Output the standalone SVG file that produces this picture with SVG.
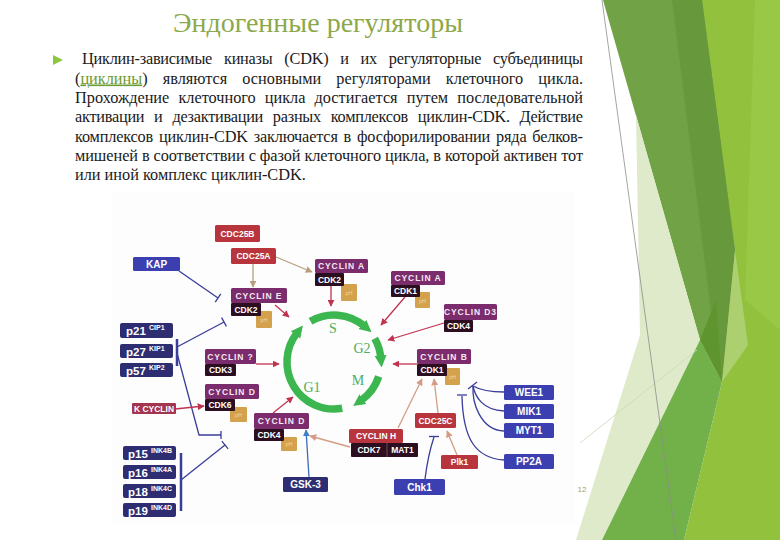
<svg xmlns="http://www.w3.org/2000/svg" width="780" height="540" viewBox="0 0 780 540">
<style>
.body{font-family:"Liberation Serif","Times New Roman",serif;font-size:16.3px;fill:#1a1a1a}
.cyc{fill:#7a2c6c}
.cdk{fill:#2b0e20}
.ph{fill:#d4a24c}
.red{fill:#b8353e}
.blue{fill:#3c3fb0}
.navy{fill:#2e2d72}
.kc{fill:#a4354e}
.bt{font-family:"Liberation Sans",Arial,sans-serif;font-weight:bold;fill:#fff;font-size:8.5px;text-anchor:middle}
.ct{font-family:"Liberation Sans",Arial,sans-serif;font-weight:bold;fill:#f6e8f2;font-size:8.5px;text-anchor:middle;letter-spacing:0.9px}
.bl{font-family:"Liberation Sans",Arial,sans-serif;font-weight:bold;fill:#fff;font-size:10px;text-anchor:middle}
.pt{font-family:"Liberation Sans",Arial,sans-serif;font-weight:bold;fill:#fff;font-size:11.5px}
.sup{font-size:7px}
.pht{font-family:"Liberation Sans",Arial,sans-serif;fill:#f2d7a4;font-size:5.5px;text-anchor:middle}
.phase{font-family:"Liberation Serif","Times New Roman",serif;font-size:14px;fill:#4cae60;text-anchor:middle}
.lr{stroke:#c0334f;stroke-width:1.3;fill:none;marker-end:url(#ar)}
.lt{stroke:#b5a07e;stroke-width:1.3;fill:none;marker-end:url(#at)}
.ls{stroke:#d49c84;stroke-width:1.3;fill:none;marker-end:url(#as)}
.li{stroke:#3a3d9a;stroke-width:1.3;fill:none}
.arc{stroke:#3cb64f;stroke-width:7.5;fill:none;marker-end:url(#ac)}
</style>
<defs>
<marker id="ar" viewBox="0 0 10 10" refX="9" refY="5" markerWidth="7" markerHeight="7" markerUnits="userSpaceOnUse" orient="auto"><path d="M0,0 L10,5 L0,10 z" fill="#c0334f"/></marker>
<marker id="at" viewBox="0 0 10 10" refX="9" refY="5" markerWidth="7" markerHeight="7" markerUnits="userSpaceOnUse" orient="auto"><path d="M0,0 L10,5 L0,10 z" fill="#b5a07e"/></marker>
<marker id="as" viewBox="0 0 10 10" refX="9" refY="5" markerWidth="7" markerHeight="7" markerUnits="userSpaceOnUse" orient="auto"><path d="M0,0 L10,5 L0,10 z" fill="#d49c84"/></marker>
<marker id="ab" viewBox="0 0 10 10" refX="9" refY="5" markerWidth="7" markerHeight="7" markerUnits="userSpaceOnUse" orient="auto"><path d="M0,0 L10,5 L0,10 z" fill="#3f7fc8"/></marker>
<marker id="ac" viewBox="0 0 10 10" refX="2" refY="5" markerWidth="12" markerHeight="15" markerUnits="userSpaceOnUse" orient="auto"><path d="M0,0 L10,5 L0,10 z" fill="#3cb64f"/></marker>
</defs>
<rect width="780" height="540" fill="#fff"/>

<g id="decor">
<polygon points="700,0 780,0 780,540 684,540 722,382 735,250" fill="#92c23d"/>
<polygon points="755,0 780,0 780,330 745,300" fill="#9cc94a" opacity="0.7"/>
<polygon points="603,0 702,0 735,250 722,382 700,340" fill="#72a246"/>
<polygon points="672,0 702,0 735,250 722,382 712,320" fill="#67993c"/>
<polygon points="636,115 700,340 602,540 576,540 640,335" fill="#dfeacb"/>
<polygon points="602,540 700,340 722,382 684,540" fill="#72b04a"/>
<polygon points="700,340 716,300 722,382" fill="#5e952f"/>
<polygon points="722,382 735,250 748,345" fill="#b3d27c" opacity="0.8"/>
<line x1="580" y1="443" x2="697" y2="350" stroke="#c9d8b4" stroke-width="0.8"/>
<line x1="602" y1="0" x2="676" y2="540" stroke="#8a8f88" stroke-width="0.8"/>
</g>

<g id="title">
<text x="173" y="32" textLength="290" lengthAdjust="spacingAndGlyphs" font-family="'Liberation Serif','Times New Roman',serif" font-size="27" fill="#8ca84a">Эндогенные регуляторы</text>
</g>
<g id="bodytext">
<polygon points="53,55 63,60 53,65" fill="#8dc63f"/>
<text class="body" x="82" y="64" textLength="501" lengthAdjust="spacing" word-spacing="8">Циклин-зависимые киназы (CDK) и их регуляторные субъединицы</text>
<text class="body" x="75" y="83.5" textLength="508" lengthAdjust="spacing" word-spacing="11">(<tspan fill="#6b9a30" text-decoration="underline">циклины</tspan>) являются основными регуляторами клеточного цикла.</text>
<text class="body" x="75" y="103" textLength="508" lengthAdjust="spacing" word-spacing="5">Прохождение клеточного цикла достигается путем последовательной</text>
<text class="body" x="75" y="122" textLength="508" lengthAdjust="spacing" word-spacing="6">активации и дезактивации разных комплексов циклин-CDK. Действие</text>
<text class="body" x="75" y="141.5" textLength="508" lengthAdjust="spacing" word-spacing="2">комплексов циклин-CDK заключается в фосфорилировании ряда белков-</text>
<text class="body" x="75" y="160.5" textLength="508" lengthAdjust="spacing">мишеней в соответствии с фазой клеточного цикла, в которой активен тот</text>
<text class="body" x="75" y="179.5">или иной комплекс циклин-CDK.</text>
</g>

<rect x="112" y="192" width="463" height="333" fill="#fdfdfd"/>

<g id="cycle">
<path class="arc" d="M310.5,321.3 A47,47 0 0 1 364.2,326.0"/>
<path class="arc" d="M374.7,338.5 A47,47 0 0 1 380.8,357.9"/>
<path class="arc" d="M378.7,376.5 A47,47 0 0 1 361.0,400.5"/>
<path class="arc" d="M342.2,408.3 A47,47 0 0 1 297.0,333.0"/>
<text class="phase" x="333" y="333">S</text>
<text class="phase" x="362" y="353">G2</text>
<text class="phase" x="358" y="385">M</text>
<text class="phase" x="312" y="392">G1</text>
</g>

<g id="connectors">
<line class="li" x1="179" y1="271" x2="218" y2="298"/>
<line class="li" x1="215.2" y1="302.1" x2="220.8" y2="293.9"/>
<line class="li" x1="177" y1="347" x2="224" y2="322"/>
<line class="li" x1="226.4" y1="326.4" x2="221.6" y2="317.6"/>
<polyline class="li" points="177,353 199,435 221,435"/>
<line class="li" x1="221" y1="431" x2="221" y2="439"/>
<line class="li" x1="181" y1="480" x2="225" y2="445"/>
<line class="li" x1="228.1" y1="448.9" x2="221.9" y2="441.1"/>
<line stroke="#3a3d9a" stroke-width="2.5" x1="177" y1="339" x2="177" y2="366"/>
<line stroke="#3a3d9a" stroke-width="2.5" x1="181" y1="453" x2="181" y2="511"/>
<line class="lt" x1="253" y1="264" x2="253" y2="287"/>
<line class="lt" x1="276" y1="257" x2="312" y2="272"/>
<line class="lr" x1="275" y1="305" x2="289" y2="317"/>
<line class="lr" x1="331" y1="286" x2="331" y2="306"/>
<line class="lr" x1="405" y1="297" x2="381" y2="325"/>
<line class="lr" x1="444" y1="323" x2="388" y2="340"/>
<line class="lr" x1="417" y1="364" x2="393" y2="364"/>
<line class="lr" x1="256" y1="364" x2="279" y2="364"/>
<line class="lr" x1="175" y1="409" x2="204" y2="406"/>
<line class="lr" x1="273" y1="413" x2="293" y2="397"/>
<line stroke="#3f6db8" stroke-width="1.3" marker-end="url(#ab)" x1="309" y1="477" x2="306" y2="430"/>
<line class="ls" x1="350" y1="447" x2="310" y2="436"/>
<line class="ls" x1="398" y1="428" x2="422" y2="379"/>
<line class="ls" x1="438" y1="413" x2="434" y2="379"/>
<line class="ls" x1="457" y1="455" x2="447" y2="431"/>
<path class="li" d="M425,479 Q428,455 434,437"/>
<line class="li" x1="429" y1="436.5" x2="439" y2="436.5"/>
<path class="li" d="M504,392 C490,392 480,390 473,386"/>
<path class="li" d="M504,411 C482,410 475,396 473,386"/>
<path class="li" d="M504,431 C480,430 472,402 473,386"/>
<line class="li" x1="468" y1="389" x2="477" y2="382"/>
<path class="li" d="M504,460 C476,458 463,440 462,396"/>
<line class="li" x1="457" y1="395" x2="467" y2="395"/>
</g>

<g id="kap"><rect class="blue" x="133" y="257" width="47" height="14" rx="1.5"/><text class="bl" x="156.5" y="267.5">KAP</text></g>
<g id="cdc25b"><rect class="red" x="215" y="225" width="45" height="17" rx="1.5"/><text class="bt" x="237.5" y="236.5">CDC25B</text></g>
<g id="cdc25a"><rect class="red" x="231" y="248" width="45" height="16" rx="1.5"/><text class="bt" x="253.5" y="259">CDC25A</text></g>
<g id="cyclinA-cdk2">
<rect class="ph" x="341" y="284" width="16" height="17" rx="1"/><text class="pht" x="349" y="295">pH</text>
<rect class="cyc" x="315" y="259" width="53" height="14" rx="1.5"/><text class="ct" x="341.5" y="269">CYCLIN  A</text>
<rect class="cdk" x="315" y="273" width="29" height="13" rx="1"/><text class="bt" x="329.5" y="282.5">CDK2</text>
</g>
<g id="cyclinE-cdk2">
<rect class="ph" x="256" y="311" width="16" height="17" rx="1"/><text class="pht" x="264" y="322">pH</text>
<rect class="cyc" x="231" y="288" width="56" height="15" rx="1.5"/><text class="ct" x="259" y="298.5">CYCLIN  E</text>
<rect class="cdk" x="231" y="303" width="30" height="13" rx="1"/><text class="bt" x="246" y="312.5">CDK2</text>
</g>
<g id="cyclinA-cdk1">
<rect class="ph" x="415" y="292" width="15" height="16" rx="1"/><text class="pht" x="422.5" y="302.5">pH</text>
<rect class="cyc" x="391" y="271" width="54" height="14" rx="1.5"/><text class="ct" x="418" y="281">CYCLIN  A</text>
<rect class="cdk" x="391" y="285" width="29" height="12" rx="1"/><text class="bt" x="405.5" y="294">CDK1</text>
</g>
<g id="cyclinD3-cdk4">
<rect class="cyc" x="444" y="304" width="53" height="16" rx="1.5"/><text class="ct" x="470.5" y="315">CYCLIN  D3</text>
<rect class="cdk" x="444" y="320" width="29" height="12" rx="1"/><text class="bt" x="458.5" y="329">CDK4</text>
</g>
<g id="p21"><rect class="navy" x="120" y="323" width="53" height="15" rx="2"/><text class="pt" x="126" y="335">p21 <tspan class="sup" dy="-5">CIP1</tspan></text></g>
<g id="p27"><rect class="navy" x="120" y="344" width="53" height="14" rx="2"/><text class="pt" x="126" y="355.5">p27 <tspan class="sup" dy="-5">KIP1</tspan></text></g>
<g id="p57"><rect class="navy" x="120" y="363" width="53" height="14" rx="2"/><text class="pt" x="126" y="374.5">p57 <tspan class="sup" dy="-5">KIP2</tspan></text></g>
<g id="cyclinQ-cdk3">
<rect class="cyc" x="205" y="349" width="51" height="15" rx="1.5"/><text class="ct" x="230.5" y="359.5">CYCLIN  ?</text>
<rect class="cdk" x="205" y="364" width="31" height="12" rx="1"/><text class="bt" x="220.5" y="373">CDK3</text>
</g>
<g id="cyclinB-cdk1">
<rect class="ph" x="445" y="368" width="15" height="17" rx="1"/><text class="pht" x="452.5" y="379">pH</text>
<rect class="cyc" x="417" y="349" width="54" height="15" rx="1.5"/><text class="ct" x="444" y="359.5">CYCLIN  B</text>
<rect class="cdk" x="417" y="364" width="30" height="12" rx="1"/><text class="bt" x="432" y="373">CDK1</text>
</g>
<g id="cyclinD-cdk6">
<rect class="ph" x="230" y="407" width="17" height="15" rx="1"/><text class="pht" x="238.5" y="417">pH</text>
<rect class="cyc" x="205" y="384" width="54" height="15" rx="1.5"/><text class="ct" x="232" y="394.5">CYCLIN  D</text>
<rect class="cdk" x="205" y="399" width="30" height="12" rx="1"/><text class="bt" x="220" y="408">CDK6</text>
</g>
<g id="kcyclin"><rect class="kc" x="132" y="403" width="44" height="11" rx="1"/><text class="bt" x="154" y="411.5">K CYCLIN</text></g>
<g id="cyclinD-cdk4">
<rect class="ph" x="281" y="437" width="16" height="14" rx="1"/><text class="pht" x="289" y="446">pH</text>
<rect class="cyc" x="254" y="413" width="55" height="16" rx="1.5"/><text class="ct" x="281.5" y="424">CYCLIN  D</text>
<rect class="cdk" x="254" y="429" width="30" height="12" rx="1"/><text class="bt" x="269" y="438">CDK4</text>
</g>
<g id="cyclinH-cdk7">
<rect class="red" x="349" y="429" width="54" height="14" rx="1.5"/><text class="bt" x="376" y="439">CYCLIN H</text>
<rect class="cdk" x="351" y="443" width="67" height="14" rx="1"/>
<line x1="387" y1="443" x2="387" y2="457" stroke="#6a4a5a" stroke-width="1"/>
<text class="bt" x="369" y="453">CDK7</text><text class="bt" x="402.5" y="453">MAT1</text>
</g>
<g id="cdc25c"><rect class="red" x="415" y="413" width="41" height="15" rx="1.5"/><text class="bt" x="435.5" y="423.5">CDC25C</text></g>
<g id="plk1"><rect class="red" x="441" y="455" width="37" height="14" rx="1.5"/><text class="bt" x="459.5" y="465">Plk1</text></g>
<g id="wee1"><rect class="blue" x="504" y="385" width="50" height="15" rx="1.5"/><text class="bl" x="529" y="396">WEE1</text></g>
<g id="mik1"><rect class="blue" x="504" y="404" width="50" height="15" rx="1.5"/><text class="bl" x="529" y="415">MIK1</text></g>
<g id="myt1"><rect class="blue" x="504" y="423" width="50" height="15" rx="1.5"/><text class="bl" x="529" y="434">MYT1</text></g>
<g id="pp2a"><rect class="blue" x="504" y="454" width="50" height="15" rx="1.5"/><text class="bl" x="529" y="465">PP2A</text></g>
<g id="chk1"><rect class="blue" x="394" y="479" width="51" height="16" rx="1.5"/><text class="bl" x="419.5" y="490.5">Chk1</text></g>
<g id="gsk3"><rect class="navy" x="283" y="477" width="45" height="15" rx="1.5"/><text class="bl" x="305.5" y="488">GSK-3</text></g>
<g id="p15"><rect class="navy" x="123" y="446" width="53" height="14" rx="2"/><text class="pt" x="128" y="457.5">p15 <tspan class="sup" dy="-5">INK4B</tspan></text></g>
<g id="p16"><rect class="navy" x="123" y="465" width="53" height="14" rx="2"/><text class="pt" x="128" y="476.5">p16 <tspan class="sup" dy="-5">INK4A</tspan></text></g>
<g id="p18"><rect class="navy" x="123" y="484" width="53" height="14" rx="2"/><text class="pt" x="128" y="495.5">p18 <tspan class="sup" dy="-5">INK4C</tspan></text></g>
<g id="p19"><rect class="navy" x="123" y="503" width="53" height="14" rx="2"/><text class="pt" x="128" y="514.5">p19 <tspan class="sup" dy="-5">INK4D</tspan></text></g>

<text x="582" y="492" font-family="'Liberation Sans',Arial,sans-serif" font-size="8" fill="#a8a060" text-anchor="middle">12</text>
</svg>
